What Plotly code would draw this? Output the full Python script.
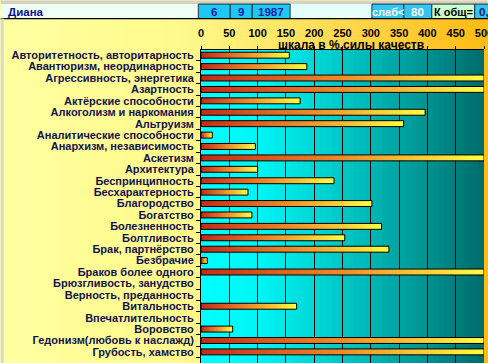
import plotly.graph_objects as go

# ---------------- data ----------------
categories = [
    "Авторитетность, авторитарность",
    "Авантюризм, неординарность",
    "Агрессивность, энергетика",
    "Азартность",
    "Актёрские способности",
    "Алкоголизм и наркомания",
    "Альтруизм",
    "Аналитические способности",
    "Анархизм, независимость",
    "Аскетизм",
    "Архитектура",
    "Беспринципность",
    "Бесхарактерность",
    "Благородство",
    "Богатство",
    "Болезненность",
    "Болтливость",
    "Брак, партнёрство",
    "Безбрачие",
    "Браков более одного",
    "Брюзгливость, занудство",
    "Верность, преданность",
    "Витальность",
    "Впечатлительность",
    "Воровство",
    "Гедонизм(любовь к наслажд)",
    "Грубость, хамство",
]
values = [156, 187, 500, 500, 175, 396, 358, 20, 96, 500, 100, 235, 83, 302, 90,
          319, 254, 332, 11, 500, 0, 0, 169, 0, 56, 500, 500]
x_ticks = [0, 50, 100, 150, 200, 250, 300, 350, 400, 450, 500]

header_cells = ["6", "9", "1987"]
weak_label = "слаб<"
weak_value = "80"
k_label = "К общ="
k_value = "0,"
name_label = "Диана"
axis_title = "шкала в %,силы качеств"

# ---------------- geometry (pixels) ----------------
FW, FH = 488, 363
L, R, T, B = 200.7, 484.3, 49.5, 363.0
W, H = R - L, B - T


def px(x):
    return (x - L) / W


def py(y):
    return 1 - (y - T) / H


def lerp_col(stops, t):
    for (a, ca), (b, cb) in zip(stops[:-1], stops[1:]):
        if a <= t <= b:
            f = (t - a) / (b - a) if b > a else 0
            return "rgb(%d,%d,%d)" % tuple(round(ca[k] + (cb[k] - ca[k]) * f) for k in range(3))
    return "rgb(%d,%d,%d)" % stops[-1][1]


shapes = []
# chart area yellow background (paper), horizontal gradient
paper_stops = [(0, (255, 255, 160)), (180, (255, 250, 140)), (300, (255, 226, 95)), (488, (255, 186, 20))]
n = 60
for k in range(n):
    x0 = FW * k / n
    x1 = FW * (k + 1) / n + 0.6
    shapes.append(dict(type="rect", xref="paper", yref="paper", x0=px(x0), x1=px(x1),
                       y0=py(FH), y1=py(18), fillcolor=lerp_col(paper_stops, (x0 + x1) / 2),
                       line=dict(width=0), layer="below"))

# plot area teal gradient
plot_stops = [(0, (0, 255, 255)), (100, (0, 246, 246)), (200, (0, 215, 215)),
              (300, (0, 182, 182)), (400, (0, 146, 146)), (500, (0, 106, 106))]
n = 50
for k in range(n):
    v0 = 500 * k / n
    v1 = 500 * (k + 1) / n
    shapes.append(dict(type="rect", xref="x", yref="paper", x0=v0, x1=v1 + 1.2,
                       y0=0, y1=1, fillcolor=lerp_col(plot_stops, (v0 + v1) / 2),
                       line=dict(width=0), layer="below"))

# Excel sheet strip at top
def rect(x0, y0, x1, y1, fill, lw=0, lc="black"):
    shapes.append(dict(type="rect", xref="paper", yref="paper", x0=px(x0), x1=px(x1),
                       y0=py(y1), y1=py(y0), fillcolor=fill,
                       line=dict(width=lw, color=lc), layer="above"))


rect(0, 0, FW, 3.5, "#d4d0c8")
rect(0, 3.5, 198, 18, "#effff6")
rect(290, 3.5, 372, 18, "#e2fffa")
for x0, x1 in [(198, 230), (230, 252), (252, 290)]:
    rect(x0, 3.5, x1, 18, "#1ec8f5", 1, "#203040")
rect(372, 3.5, 404, 18, "#33c6f0", 1, "#203040")
rect(404, 3.5, 432, 18, "#33c6f0", 1, "#203040")
rect(432, 3.5, 475, 18, "#ccffcc", 1, "#203040")
rect(475, 3.5, FW + 2, 18, "#33c6f0", 1, "#203040")
shapes.append(dict(type="line", xref="paper", yref="paper", x0=px(0), x1=px(FW),
                   y0=py(18), y1=py(18), line=dict(color="black", width=1.2), layer="above"))
# left sheet gridline column
rect(0, 18, 3, FH, "#d8d8d8")

fig = go.Figure()

bar_half = 0.26
grad = [[0, "#c42a18"], [0.5, "#f08c2a"], [1, "#ffff40"]]
for i, (c, v) in enumerate(zip(categories, values)):
    if v <= 0:
        continue
    fig.add_trace(go.Scatter(
        x=[0, v, v, 0, 0],
        y=[i - bar_half, i - bar_half, i + bar_half, i + bar_half, i - bar_half],
        mode="lines", fill="toself",
        fillgradient=dict(type="horizontal", colorscale=grad),
        line=dict(color="black", width=1),
        hoverinfo="skip", showlegend=False, name=c,
    ))

font_family = "Liberation Sans, Arial, sans-serif"

annotations = [
    dict(text=axis_title, xref="paper", yref="paper", x=px(351), y=py(44.5),
         showarrow=False, font=dict(family=font_family, size=12, color="black", weight="bold"),
         xanchor="center", yanchor="middle"),
    dict(text=name_label, xref="paper", yref="paper", x=px(5), y=py(11),
         showarrow=False, font=dict(family=font_family, size=11.5, color="#101090", weight="bold"),
         xanchor="left", yanchor="middle"),
]
for txt, cx in zip(header_cells, [214, 241, 271]):
    annotations.append(dict(text=txt, xref="paper", yref="paper", x=px(cx), y=py(11),
                            showarrow=False, font=dict(family=font_family, size=11.5, color="#1020a0", weight="bold"),
                            xanchor="center", yanchor="middle"))
annotations.append(dict(text=weak_label, xref="paper", yref="paper", x=px(388), y=py(11), showarrow=False,
                        font=dict(family=font_family, size=11, color="white", weight="bold"),
                        xanchor="center", yanchor="middle"))
annotations.append(dict(text=weak_value, xref="paper", yref="paper", x=px(418), y=py(11), showarrow=False,
                        font=dict(family=font_family, size=11.5, color="white", weight="bold"),
                        xanchor="center", yanchor="middle"))
annotations.append(dict(text=k_label, xref="paper", yref="paper", x=px(453.5), y=py(11), showarrow=False,
                        font=dict(family=font_family, size=11, color="black", weight="bold"),
                        xanchor="center", yanchor="middle"))
annotations.append(dict(text=k_value, xref="paper", yref="paper", x=px(477), y=py(11), showarrow=False,
                        font=dict(family=font_family, size=11.5, color="#102060", weight="bold"),
                        xanchor="left", yanchor="middle"))

n_rows = len(categories)
top_off = (54.7 - T) / 11.43
span = H / 11.43

fig.update_layout(
    width=FW, height=FH, autosize=False,
    margin=dict(l=L, r=FW - R, t=T, b=0, pad=0),
    paper_bgcolor="#ffff99", plot_bgcolor="rgba(0,0,0,0)",
    template="none",
    shapes=shapes, annotations=annotations,
    showlegend=False,
    xaxis=dict(range=[0, 500], side="top", tickvals=x_ticks, ticktext=[str(t) for t in x_ticks],
               showgrid=True, gridcolor="black", gridwidth=1, zeroline=False,
               ticks="outside", ticklen=3, tickcolor="black",
               showline=True, linecolor="black", linewidth=1,
               tickfont=dict(family=font_family, size=11, color="black", weight="bold"),
               ticklabelstandoff=5, ticklabeloverflow="allow",
               automargin=False, fixedrange=True),
    yaxis=dict(range=[span - top_off, -top_off], tickvals=list(range(n_rows)), ticktext=categories,
               showgrid=False, zeroline=False, ticks="",
               minor=dict(tickvals=[i + 0.5 for i in range(-1, n_rows)], ticks="outside",
                          ticklen=4, tickcolor="black"),
               showline=True, linecolor="black", linewidth=1,
               tickfont=dict(family=font_family, size=11, color="#12124a", weight="bold"),
               ticklabelstandoff=4, automargin=False, fixedrange=True),
)

fig.write_html("out.html", config={"displayModeBar": False},
               post_script="document.body.style.margin='0';document.body.style.overflow='hidden';")
